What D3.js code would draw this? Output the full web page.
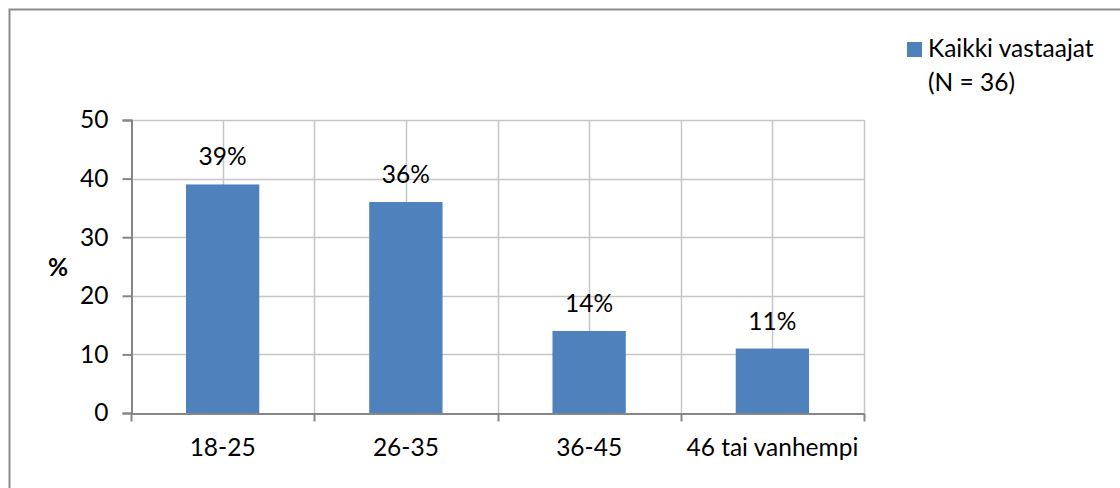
<!DOCTYPE html>
<html>
<head>
<meta charset="utf-8">
<script src="https://cdn.jsdelivr.net/npm/d3@7"></script>
<style>
  html, body { margin: 0; padding: 0; background: #fff; }
  svg { display: block; font-family: Lato, "Open Sans", sans-serif; }
</style>
</head>
<body>
<div id="chart"></div>
<script>
// Age groups of respondents and their shares (%)
const categories = ["18-25", "26-35", "36-45", "46 tai vanhempi"];
const values = [39, 36, 14, 11];
const yTicks = [0, 10, 20, 30, 40, 50];
const seriesName = ["Kaikki vastaajat", "(N = 36)"];

const W = 1120, H = 488;
const FS = 24.5;
const plot = { left: 131, right: 864, top: 120, bottom: 413 };

const svg = d3.select("#chart").append("svg")
  .attr("width", W).attr("height", H);

// Outer frame: top and left edges
svg.append("path")
  .attr("d", `M9.5,${H} V9.5 H${W}`)
  .attr("fill", "none").attr("stroke", "#8c8c8c").attr("stroke-width", 2);

const x = d3.scaleBand().domain(categories).range([plot.left, plot.right]).padding(0);
const y = d3.scaleLinear().domain([0, 50]).range([plot.bottom, plot.top]);

const barW = x.bandwidth() * 0.4;

// Horizontal gridlines
svg.append("g").selectAll("line").data(yTicks.filter(d => d > 0)).join("line")
  .attr("x1", plot.left).attr("x2", plot.right)
  .attr("y1", d => Math.round(y(d)) + 0.5).attr("y2", d => Math.round(y(d)) + 0.5)
  .attr("stroke", "#c6c6c6").attr("stroke-width", 1.5);

// Vertical gridlines at the category centres and boundaries
const vLines = categories.map(c => x(c) + x.bandwidth() / 2)
  .concat(categories.slice(1).map(c => x(c)), [plot.right]);
svg.append("g").selectAll("line").data(vLines).join("line")
  .attr("x1", d => Math.round(d) + 0.5).attr("x2", d => Math.round(d) + 0.5)
  .attr("y1", plot.top).attr("y2", plot.bottom)
  .attr("stroke", "#c6c6c6").attr("stroke-width", 1.5);

// Bars
svg.append("g").selectAll("rect").data(values).join("rect")
  .attr("x", (d, i) => x(categories[i]) + (x.bandwidth() - barW) / 2)
  .attr("width", barW)
  .attr("y", d => y(d))
  .attr("height", d => y(0) - y(d))
  .attr("fill", "#4f81bd");

// Value labels
svg.append("g").selectAll("text").data(values).join("text")
  .attr("x", (d, i) => x(categories[i]) + x.bandwidth() / 2)
  .attr("y", d => y(d) - 19)
  .attr("text-anchor", "middle")
  .attr("font-size", FS).attr("fill", "#000")
  .text(d => d + "%");

// Y axis
const yAxis = svg.append("g")
  .attr("transform", `translate(${plot.left + 0.5},0)`)
  .call(d3.axisLeft(y).tickValues(yTicks).tickSize(9).tickPadding(14));
yAxis.select(".domain").attr("stroke", "#868686").attr("stroke-width", 2);
yAxis.selectAll(".tick line").attr("stroke", "#868686").attr("stroke-width", 2);
yAxis.selectAll(".tick text").attr("font-size", FS).attr("fill", "#000")
  .attr("font-family", "Lato, 'Open Sans', sans-serif");

// X axis with ticks at the category boundaries
const xAxis = svg.append("g")
  .attr("transform", `translate(0,${plot.bottom + 0.5})`)
  .call(d3.axisBottom(x).tickSize(0).tickPadding(25));
xAxis.select(".domain").attr("stroke", "#868686").attr("stroke-width", 2);
xAxis.selectAll(".tick text").attr("font-size", FS).attr("fill", "#000")
  .attr("font-family", "Lato, 'Open Sans', sans-serif");
xAxis.append("g").selectAll("line")
  .data(categories.map(c => x(c)).concat([plot.right])).join("line")
  .attr("x1", d => Math.round(d) + 0.5).attr("x2", d => Math.round(d) + 0.5)
  .attr("y1", 0).attr("y2", 8)
  .attr("stroke", "#868686").attr("stroke-width", 2);

// Axis title
svg.append("text")
  .attr("x", 58).attr("y", (plot.top + plot.bottom) / 2 + 9)
  .attr("text-anchor", "middle")
  .attr("font-size", FS).attr("font-weight", "bold")
  .text("%");

// Legend
const legend = svg.append("g").attr("transform", "translate(907,42)");
legend.append("rect").attr("width", 15).attr("height", 15).attr("fill", "#4f81bd");
legend.selectAll("text").data(seriesName).join("text")
  .attr("x", 21).attr("y", (d, i) => 15 + i * 34)
  .attr("font-size", FS).attr("fill", "#000")
  .text(d => d);
</script>
</body>
</html>
